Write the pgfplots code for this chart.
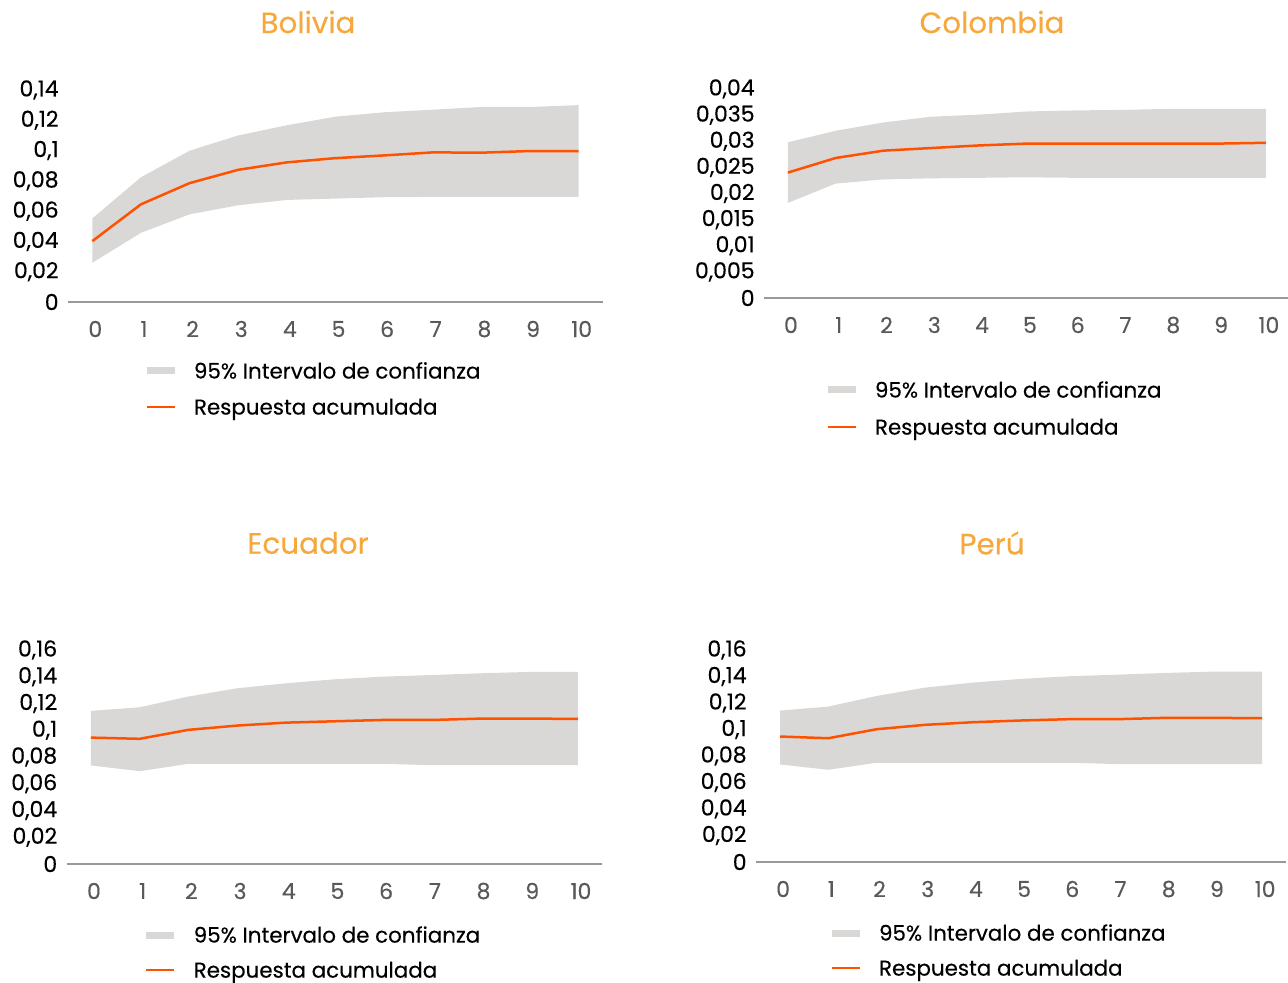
\documentclass[border=0pt]{standalone}
\usepackage{fontspec}
\setmainfont{Poppins}[FakeBold=0.3]
\usepackage{pgfplots}
\usepackage{pgfplotstable}
\pgfplotsset{compat=1.18}
\definecolor{band}{HTML}{D9D8D6}
\definecolor{resp}{HTML}{FF5200}
\definecolor{ttl}{HTML}{F6A83C}
\definecolor{axg}{HTML}{999999}
\definecolor{xtk}{HTML}{595959}

% band outlines: upper bound 0..10, then lower bound 10..0
\pgfplotstableread{
x y
0 0.0552
1 0.0824
2 0.0999
3 0.1100
4 0.1167
5 0.1224
6 0.1253
7 0.1270
8 0.1288
9 0.1288
10 0.1300
10 0.0694
9 0.0694
8 0.0694
7 0.0694
6 0.0692
5 0.0683
4 0.0674
3 0.0639
2 0.0579
1 0.0457
0 0.0259
}\bolband
\pgfplotstableread{
x y
0 0.0402
1 0.0645
2 0.0785
3 0.0873
4 0.0922
5 0.0950
6 0.0968
7 0.0988
8 0.0986
9 0.0997
10 0.0997
}\bolresp

\pgfplotstableread{
x y
0 0.0298
1 0.0320
2 0.0336
3 0.0347
4 0.0351
5 0.0357
6 0.0359
7 0.0360
8 0.0362
9 0.0362
10 0.0362
10 0.0230
9 0.0230
8 0.0230
7 0.0230
6 0.0230
5 0.0231
4 0.0230
3 0.0229
2 0.0227
1 0.0219
0 0.0182
}\colband
\pgfplotstableread{
x y
0 0.0240
1 0.0268
2 0.0282
3 0.0287
4 0.0292
5 0.02955
6 0.02955
7 0.02955
8 0.02955
9 0.02955
10 0.0297
}\colresp

\pgfplotstableread{
x y
0 0.1145
1 0.1172
2 0.1252
3 0.1314
4 0.1351
5 0.1381
6 0.1401
7 0.1413
8 0.1426
9 0.1436
10 0.1436
10 0.0739
9 0.0739
8 0.0739
7 0.0739
6 0.0749
5 0.0749
4 0.0749
3 0.0749
2 0.0749
1 0.0694
0 0.0737
}\ecuband
\pgfplotstableread{
x y
0 0.0945
1 0.0936
2 0.1003
3 0.1035
4 0.1057
5 0.1067
6 0.1077
7 0.1077
8 0.1087
9 0.1087
10 0.1085
}\ecuresp

\pgfplotstableread{
x y
0 0.1143
1 0.1173
2 0.1253
3 0.1316
4 0.1354
5 0.1382
6 0.1402
7 0.1414
8 0.1427
9 0.1437
10 0.1437
10 0.0739
9 0.0739
8 0.0739
7 0.0739
6 0.0749
5 0.0749
4 0.0749
3 0.0749
2 0.0749
1 0.0696
0 0.0736
}\perband
\pgfplotstableread{
x y
0 0.0947
1 0.0934
2 0.1002
3 0.1035
4 0.1055
5 0.1068
6 0.1078
7 0.1078
8 0.1088
9 0.1088
10 0.1085
}\perresp

\pgfplotsset{
  panel/.style={
    scale only axis, anchor=south west,
    xmin=-0.5, xmax=10.5, ymin=0,
    axis x line*=bottom, axis y line*=left,
    x axis line style={draw=axg, line width=0.7pt},
    y axis line style={draw=none},
    major tick length=0pt,
    scaled y ticks=false,
    xtick={0,1,2,3,4,5,6,7,8,9,10},
    tick label style={font=\fontsize{11}{13}\selectfont},
    xticklabel style={text=xtk, anchor=center, yshift=-13.5pt, xshift=1.5pt},
    yticklabel style={anchor=east, inner sep=0pt, xshift=-4.5pt},
    yticklabel={\pgfmathprintnumber[fixed, use comma, precision=3, assume math mode=true]{\tick}},
    xticklabel={\pgfmathprintnumber[assume math mode=true]{\tick}},
    legend style={draw=none, fill=none, inner sep=0pt,
      anchor=west, row sep=10.4pt, column sep=9pt,
      font=\fontsize{10.7}{12}\selectfont,
      nodes={inner sep=0pt, text height=7.6pt, text depth=0pt}},
    legend cell align=left,
  },
  bandimg/.style={legend image code/.code={\fill[band] (0pt,-1.75pt) rectangle (14pt,1.75pt);}},
  lineimg/.style={legend image code/.code={\draw[resp, line width=1.25pt] (0pt,0pt) -- (14pt,0pt);}},
}

\begin{document}
\begin{tikzpicture}
\path[use as bounding box] (0pt,0pt) rectangle (644pt,-491.5pt);

\node[text=ttl, font=\fontsize{14.7}{17}\selectfont] at (154pt,-11pt) {Bolivia};
\node[text=ttl, font=\fontsize{14.7}{17}\selectfont] at (496pt,-11pt) {Colombia};
\node[text=ttl, font=\fontsize{14.7}{17}\selectfont] at (154pt,-271.5pt) {Ecuador};
\node[text=ttl, font=\fontsize{14.7}{17}\selectfont] at (496pt,-271.5pt) {Perú};

% Bolivia
\begin{axis}[panel, at={(34pt,-151pt)}, width=267.5pt, height=106pt, ymax=0.14,
  ytick={0,0.02,0.04,0.06,0.08,0.1,0.12,0.14},
  legend style={at={(axis description cs:0.144,-0.41)}, row sep=10.4pt}]
\addplot[fill=band, draw=none, bandimg] table[x=x,y=y]{\bolband};
\addlegendentry{95\% Intervalo de confianza}
\addplot[resp, line width=1.25pt, lineimg] table[x=x,y=y]{\bolresp};
\addlegendentry{Respuesta acumulada}
\end{axis}

% Colombia
\begin{axis}[panel, at={(382pt,-149pt)}, width=262.9pt, height=104.5pt, ymax=0.04,
  ytick={0,0.005,0.01,0.015,0.02,0.025,0.03,0.035,0.04},
  legend style={at={(axis description cs:0.118,-0.5287)}, row sep=10.9pt}]
\addplot[fill=band, draw=none, bandimg] table[x=x,y=y]{\colband};
\addlegendentry{95\% Intervalo de confianza}
\addplot[resp, line width=1.25pt, lineimg] table[x=x,y=y]{\colresp};
\addlegendentry{Respuesta acumulada}
\end{axis}

% Ecuador
\begin{axis}[panel, at={(33.3pt,-432pt)}, width=267.85pt, height=107pt, ymax=0.16,
  ytick={0,0.02,0.04,0.06,0.08,0.1,0.12,0.14,0.16},
  legend style={at={(axis description cs:0.146,-0.4136)}, row sep=9.9pt}]
\addplot[fill=band, draw=none, bandimg] table[x=x,y=y]{\ecuband};
\addlegendentry{95\% Intervalo de confianza}
\addplot[resp, line width=1.25pt, lineimg] table[x=x,y=y]{\ecuresp};
\addlegendentry{Respuesta acumulada}
\end{axis}

% Peru
\begin{axis}[panel, at={(378pt,-431pt)}, width=265.1pt, height=106pt, ymax=0.16,
  ytick={0,0.02,0.04,0.06,0.08,0.1,0.12,0.14,0.16},
  legend style={at={(axis description cs:0.1398,-0.4175)}, row sep=9.9pt}]
\addplot[fill=band, draw=none, bandimg] table[x=x,y=y]{\perband};
\addlegendentry{95\% Intervalo de confianza}
\addplot[resp, line width=1.25pt, lineimg] table[x=x,y=y]{\perresp};
\addlegendentry{Respuesta acumulada}
\end{axis}
\end{tikzpicture}
\end{document}
